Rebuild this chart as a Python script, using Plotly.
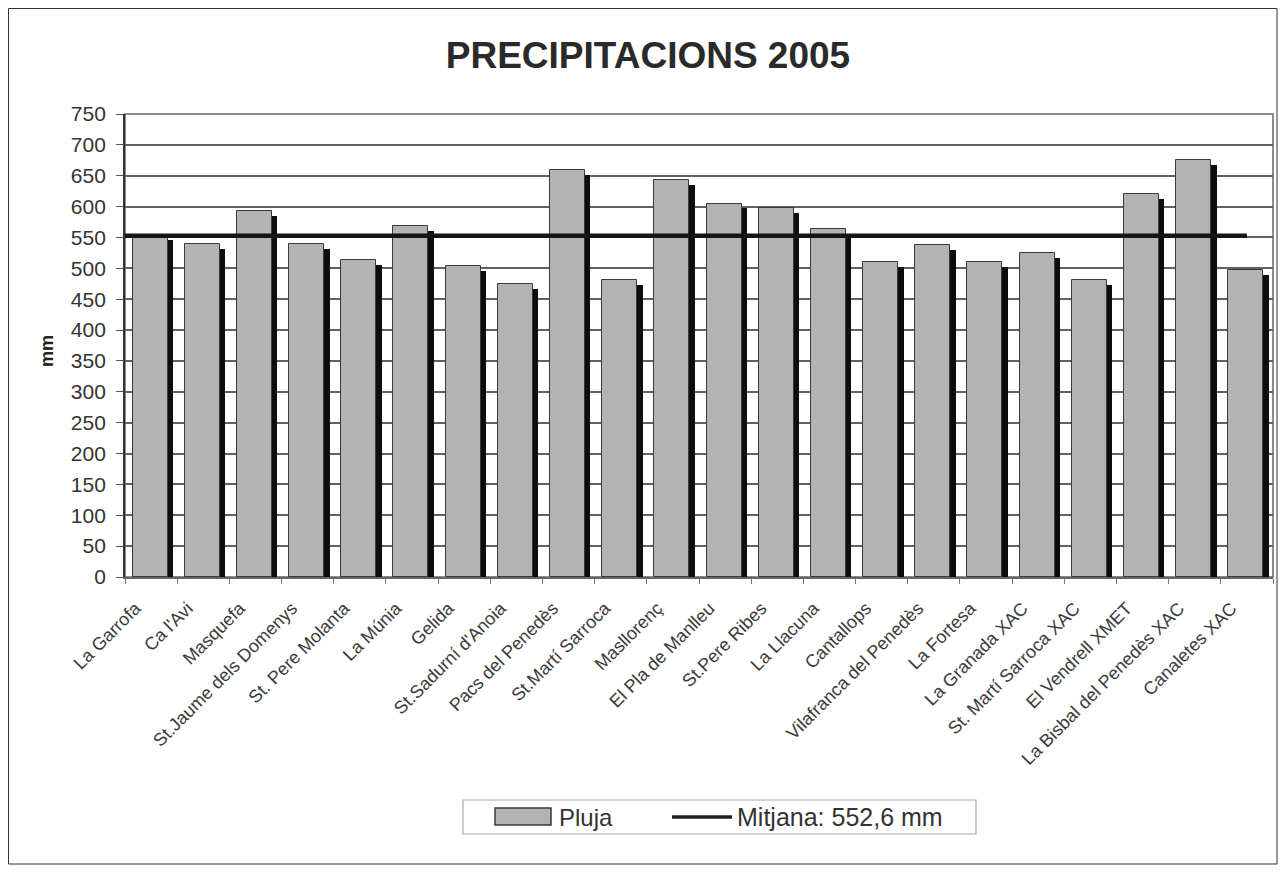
import plotly.graph_objects as go

stations = ["La Garrofa", "Ca l'Avi", "Masquefa", "St.Jaume dels Domenys", "St. Pere Molanta",
            "La Múnia", "Gelida", "St.Sadurní d'Anoia", "Pacs del Penedès", "St.Martí Sarroca",
            "Masllorenç", "El Pla de Manlleu", "St.Pere Ribes", "La Llacuna", "Cantallops",
            "Vilafranca del Penedès", "La Fortesa", "La Granada XAC", "St. Martí Sarroca XAC",
            "El Vendrell XMET", "La Bisbal del Penedès XAC", "Canaletes XAC"]
rain_mm = [554, 539, 593, 539, 513, 569, 503, 474, 659, 481, 643,
           605, 597, 563, 510, 537, 510, 525, 481, 620, 675, 497]
mean_mm = 552.6
y_ticks = list(range(0, 751, 50))

BAR_COLOR = "#b3b3b3"
idx = list(range(len(stations)))
fig = go.Figure()

# shadow (3D depth) behind each bar
fig.add_trace(go.Bar(x=idx, y=[v - 8 for v in rain_mm], width=0.67, offset=-0.25,
                     marker=dict(color="#0d0d0d", line=dict(width=0)),
                     showlegend=False, hoverinfo="skip"))
fig.add_trace(go.Bar(x=idx, y=rain_mm, width=0.67, offset=-0.355, name="Pluja",
                     showlegend=False,
                     marker=dict(color=BAR_COLOR, line=dict(color="#3a3a3a", width=1))))
fig.add_trace(go.Scatter(x=[-0.5, len(stations) - 1], y=[mean_mm, mean_mm], mode="lines",
                         name="Mitjana: 552,6 mm", showlegend=False,
                         line=dict(color="#151515", width=4.5)))

W, H = 1270, 857
L, R, T, B = 117, 5, 106, 288
PW, PH = W - L - R, H - T - B


def px(fx):
    return (fx - L) / PW


def py(fy):
    return (H - B - fy) / PH


annotations = [
    dict(text="<b>mm</b>", xref="paper", yref="paper", x=px(39), y=py(343),
         textangle=-90, showarrow=False, font=dict(size=18, color="#222222"),
         xanchor="center", yanchor="middle"),
    dict(text="Pluja", xref="paper", yref="paper", x=px(549), y=py(809),
         showarrow=False, xanchor="left", yanchor="middle",
         font=dict(size=24, color="#333333")),
    dict(text="Mitjana: 552,6 mm", xref="paper", yref="paper", x=px(727), y=py(809),
         showarrow=False, xanchor="left", yanchor="middle",
         font=dict(size=25, color="#333333")),
]

shapes = [
    # plot area frame
    dict(type="rect", xref="paper", yref="paper", x0=0, x1=1, y0=0, y1=1,
         line=dict(color="#666666", width=1.5), layer="below"),
    # outer chart border
    dict(type="rect", xref="paper", yref="paper", x0=px(0.5), x1=px(W - 1),
         y0=py(H - 1), y1=py(0.5), line=dict(color="#333333", width=1)),
    # legend box
    dict(type="rect", xref="paper", yref="paper", x0=px(455), x1=px(968),
         y0=py(826), y1=py(792), line=dict(color="#aaaaaa", width=1.2), fillcolor="white"),
    # legend bar swatch
    dict(type="rect", xref="paper", yref="paper", x0=px(487), x1=px(543),
         y0=py(817), y1=py(800), line=dict(color="#3a3a3a", width=1.5), fillcolor=BAR_COLOR),
    # legend line swatch
    dict(type="line", xref="paper", yref="paper", x0=px(664), x1=px(724),
         y0=py(809), y1=py(809), line=dict(color="#222222", width=3.5)),
]

fig.update_layout(
    width=W, height=H,
    paper_bgcolor="white", plot_bgcolor="white",
    font=dict(family="Liberation Sans, Arial, sans-serif", color="#222222"),
    margin=dict(l=L, r=R, t=T, b=B, autoexpand=False),
    title=dict(text="<b>PRECIPITACIONS 2005</b>", xref="container", x=640 / W,
               xanchor="center", yref="container", y=1 - 47 / H, yanchor="middle",
               font=dict(size=37, color="#2a2a2a")),
    barmode="overlay", bargap=0,
    showlegend=False,
    xaxis=dict(range=[-0.5, len(stations) - 0.5], tickmode="array",
               tickvals=[i - 0.3 for i in idx],
               ticktext=stations, tickangle=-45, tickfont=dict(size=18, color="#3a3a3a"),
               showgrid=False, zeroline=False, showline=True, linecolor="#666666",
               linewidth=1.5, ticks="", ticklabelstandoff=12, automargin=False,
               minor=dict(ticks="outside", tick0=-0.5, dtick=1, ticklen=5,
                          tickcolor="#777777", showgrid=False)),
    yaxis=dict(range=[0, 750], tickmode="array", tickvals=y_ticks, ticks="outside",
               ticklen=7, tickcolor="#555555", tickfont=dict(size=21, color="#333333"),
               ticklabelstandoff=6,
               showgrid=True, gridcolor="#626262", gridwidth=2, zeroline=False,
               showline=True, linecolor="#333333", linewidth=1.8, automargin=False),
    annotations=annotations,
    shapes=shapes,
)

fig.write_html("out.html")
